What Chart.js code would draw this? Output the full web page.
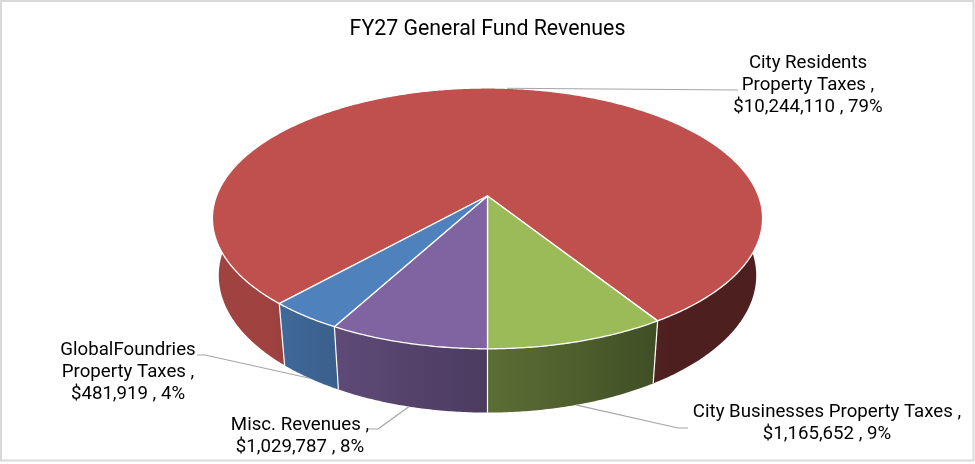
<!DOCTYPE html>
<html>
<head>
<meta charset="utf-8">
<title>FY27 General Fund Revenues</title>
<script src="https://cdn.jsdelivr.net/npm/chart.js@4.4.0/dist/chart.umd.min.js"></script>
<style>
    html, body { margin: 0; padding: 0; background: #ffffff; }
    #wrap { width: 975px; height: 464px; position: relative; }
</style>
</head>
<body>
<div id="wrap"><canvas id="chart"></canvas></div>
<script>
// chart data
const categories = ["City Residents Property Taxes", "City Businesses Property Taxes", "Misc. Revenues", "GlobalFoundries Property Taxes"];
const categoryLines = [["City Residents", "Property Taxes"], ["City Businesses Property Taxes"], ["Misc. Revenues"], ["GlobalFoundries", "Property Taxes"]];
const revenues = [10244110, 1165652, 1029787, 481919];
const topColors = ["#C0504D", "#9BBB59", "#8064A2", "#4F81BD"];

// label placement (center x, first line y, leader attach + elbow)
const labelPos = [
    {x: 808, y: 63, attach: [738, 90], elbow: [738, 90]},
    {x: 827, y: 412, attach: [688, 428], elbow: [678, 428]},
    {x: 300, y: 425, attach: [369, 429], elbow: [378, 429]},
    {x: 128, y: 350, attach: [197, 355], elbow: [205, 355]},
];

// 3d look
const PERSP = 0.1715;   // near side bigger
const SINK = 0.023;     // bottom face a bit smaller
const X_STRETCH = 2.1406;
const DEPTH = 0.4566;
const LINE_H = 22;

let chart;

const total = revenues.reduce((a, b) => a + b, 0);
// green / purple border sits at 6 o'clock
const startRotation = 180 - 360 * (revenues[0] + revenues[1]) / total;

function hexToRgb(hex) {
    const n = parseInt(hex.slice(1), 16);
    return [(n >> 16) & 255, (n >> 8) & 255, n & 255];
}

function shade(hex, f) {
    const c = hexToRgb(hex);
    return "rgb(" + Math.round(c[0] * f) + "," + Math.round(c[1] * f) + "," + Math.round(c[2] * f) + ")";
}

// light falls from the left
function wallLight(a) {
    let deg = a * 180 / Math.PI;
    deg = ((deg % 360) + 360) % 360;
    if (deg > 270) deg -= 360;
    if (deg <= 55) return 0.4;
    if (deg >= 135) return 0.83;
    return 0.4 + 0.43 * (deg - 55) / 80;
}

function makeProj(arc) {
    const R = arc.outerRadius;
    return function (a, r, h) {
        const u = r * Math.cos(a);
        const v = r * Math.sin(a);
        const s = 1 / (1 - PERSP * v + SINK * h);
        return [arc.x + R * X_STRETCH * u * s, arc.y + (R * v + R * DEPTH * h) * s];
    };
}

const pie3d = {
    id: "pie3d",
    beforeDraw(c) {
        const ctx = c.ctx;
        ctx.save();
        ctx.fillStyle = "#ffffff";
        ctx.fillRect(0, 0, c.width, c.height);
        ctx.strokeStyle = "#D9D9D9";
        ctx.lineWidth = 2;
        ctx.strokeRect(1, 1, 972.5, 459.5);
        ctx.restore();
    },
    beforeDatasetsDraw(c) {
        const ctx = c.ctx;
        const arcs = c.getDatasetMeta(0).data;
        const proj = makeProj(arcs[0]);
        const step = Math.PI / 360;
        const xLeft = proj(Math.PI, 1, 0)[0];
        const xRight = proj(0, 1, 0)[0];

        ctx.save();
        // side walls, one gradient per slice
        arcs.forEach((arc, i) => {
            const grad = ctx.createLinearGradient(xLeft, 0, xRight, 0);
            for (let k = 0; k <= 36; k++) {
                const a = Math.PI - k * Math.PI / 36;
                const off = (proj(a, 1, 0)[0] - xLeft) / (xRight - xLeft);
                grad.addColorStop(Math.min(Math.max(off, 0), 1), shade(topColors[i], wallLight(a)));
            }
            // split the slice into runs that face us
            const runs = [];
            let run = null;
            for (let t = arc.startAngle; t <= arc.endAngle + 1e-9; t += step) {
                const a = Math.min(t, arc.endAngle);
                if (Math.sin(a) > -0.35) {
                    if (!run) { run = []; runs.push(run); }
                    run.push(a);
                } else {
                    run = null;
                }
                if (a === arc.endAngle) break;
            }
            if (run && run[run.length - 1] !== arc.endAngle && Math.sin(arc.endAngle) > -0.35) run.push(arc.endAngle);
            runs.forEach(r => {
                ctx.beginPath();
                r.forEach((a, k) => {
                    const p = proj(a, 1, 0);
                    if (k === 0) ctx.moveTo(p[0], p[1]); else ctx.lineTo(p[0], p[1]);
                });
                for (let k = r.length - 1; k >= 0; k--) {
                    const p = proj(r[k], 1, 1);
                    ctx.lineTo(p[0], p[1]);
                }
                ctx.closePath();
                ctx.fillStyle = grad;
                ctx.fill();
            });
        });

        // white seams on the walls
        ctx.strokeStyle = "#ffffff";
        ctx.lineWidth = 1.2;
        arcs.forEach(arc => {
            const a = arc.startAngle;
            if (Math.sin(a) > 0) {
                const top = proj(a, 1, 0), bot = proj(a, 1, 1);
                ctx.beginPath();
                ctx.moveTo(top[0], top[1]);
                ctx.lineTo(bot[0], bot[1]);
                ctx.stroke();
            }
        });

        // top faces
        arcs.forEach((arc, i) => {
            const c0 = proj(0, 0, 0);
            ctx.beginPath();
            ctx.moveTo(c0[0], c0[1]);
            for (let t = arc.startAngle; t < arc.endAngle; t += step) {
                const p = proj(t, 1, 0);
                ctx.lineTo(p[0], p[1]);
            }
            const pe = proj(arc.endAngle, 1, 0);
            ctx.lineTo(pe[0], pe[1]);
            ctx.closePath();
            ctx.fillStyle = topColors[i];
            ctx.fill();
            ctx.lineJoin = "round";
            ctx.strokeStyle = "#ffffff";
            ctx.lineWidth = 1.3;
            ctx.stroke();
        });

        // leader lines and labels
        ctx.font = "18.67px Roboto";
        ctx.fillStyle = "#000000";
        ctx.textAlign = "center";
        ctx.textBaseline = "middle";
        arcs.forEach((arc, i) => {
            const mid = (arc.startAngle + arc.endAngle) / 2;
            const anchor = Math.sin(mid) > 0 ? proj(mid, 1, 1) : proj(mid, 1, 0);
            const lp = labelPos[i];
            ctx.beginPath();
            ctx.moveTo(lp.attach[0], lp.attach[1]);
            ctx.lineTo(lp.elbow[0], lp.elbow[1]);
            ctx.lineTo(anchor[0], anchor[1]);
            ctx.strokeStyle = "#A6A6A6";
            ctx.lineWidth = 1.2;
            ctx.stroke();

            const pct = Math.round(revenues[i] / total * 100);
            const lines = categoryLines[i].slice();
            lines[lines.length - 1] += " ,";
            lines.push("$" + revenues[i].toLocaleString("en-US") + " , " + pct + "%");
            lines.forEach((txt, k) => ctx.fillText(txt, lp.x, lp.y + k * LINE_H));
        });
        ctx.restore();
        return false;
    }
};

window.addEventListener("load", function () {
    const chartCanvas = document.getElementById("chart");
    chart = new Chart(chartCanvas, {
        type: "pie",
        data: {
            labels: categories,
            datasets: [{
                data: revenues,
                backgroundColor: topColors,
                borderWidth: 0,
            }],
        },
        options: {
            responsive: true,
            maintainAspectRatio: false,
            animation: false,
            rotation: startRotation,
            radius: 126.6,
            layout: {
                padding: {top: 0, bottom: 114.6, left: 0, right: 0},
            },
            plugins: {
                legend: {display: false},
                tooltip: {enabled: false},
                title: {
                    display: true,
                    text: "FY27 General Fund Revenues",
                    color: "#000000",
                    font: {family: "Roboto", size: 21.33, weight: "normal"},
                    padding: {top: 17, bottom: 0},
                },
            },
        },
        plugins: [pie3d],
    });
});
</script>
</body>
</html>
